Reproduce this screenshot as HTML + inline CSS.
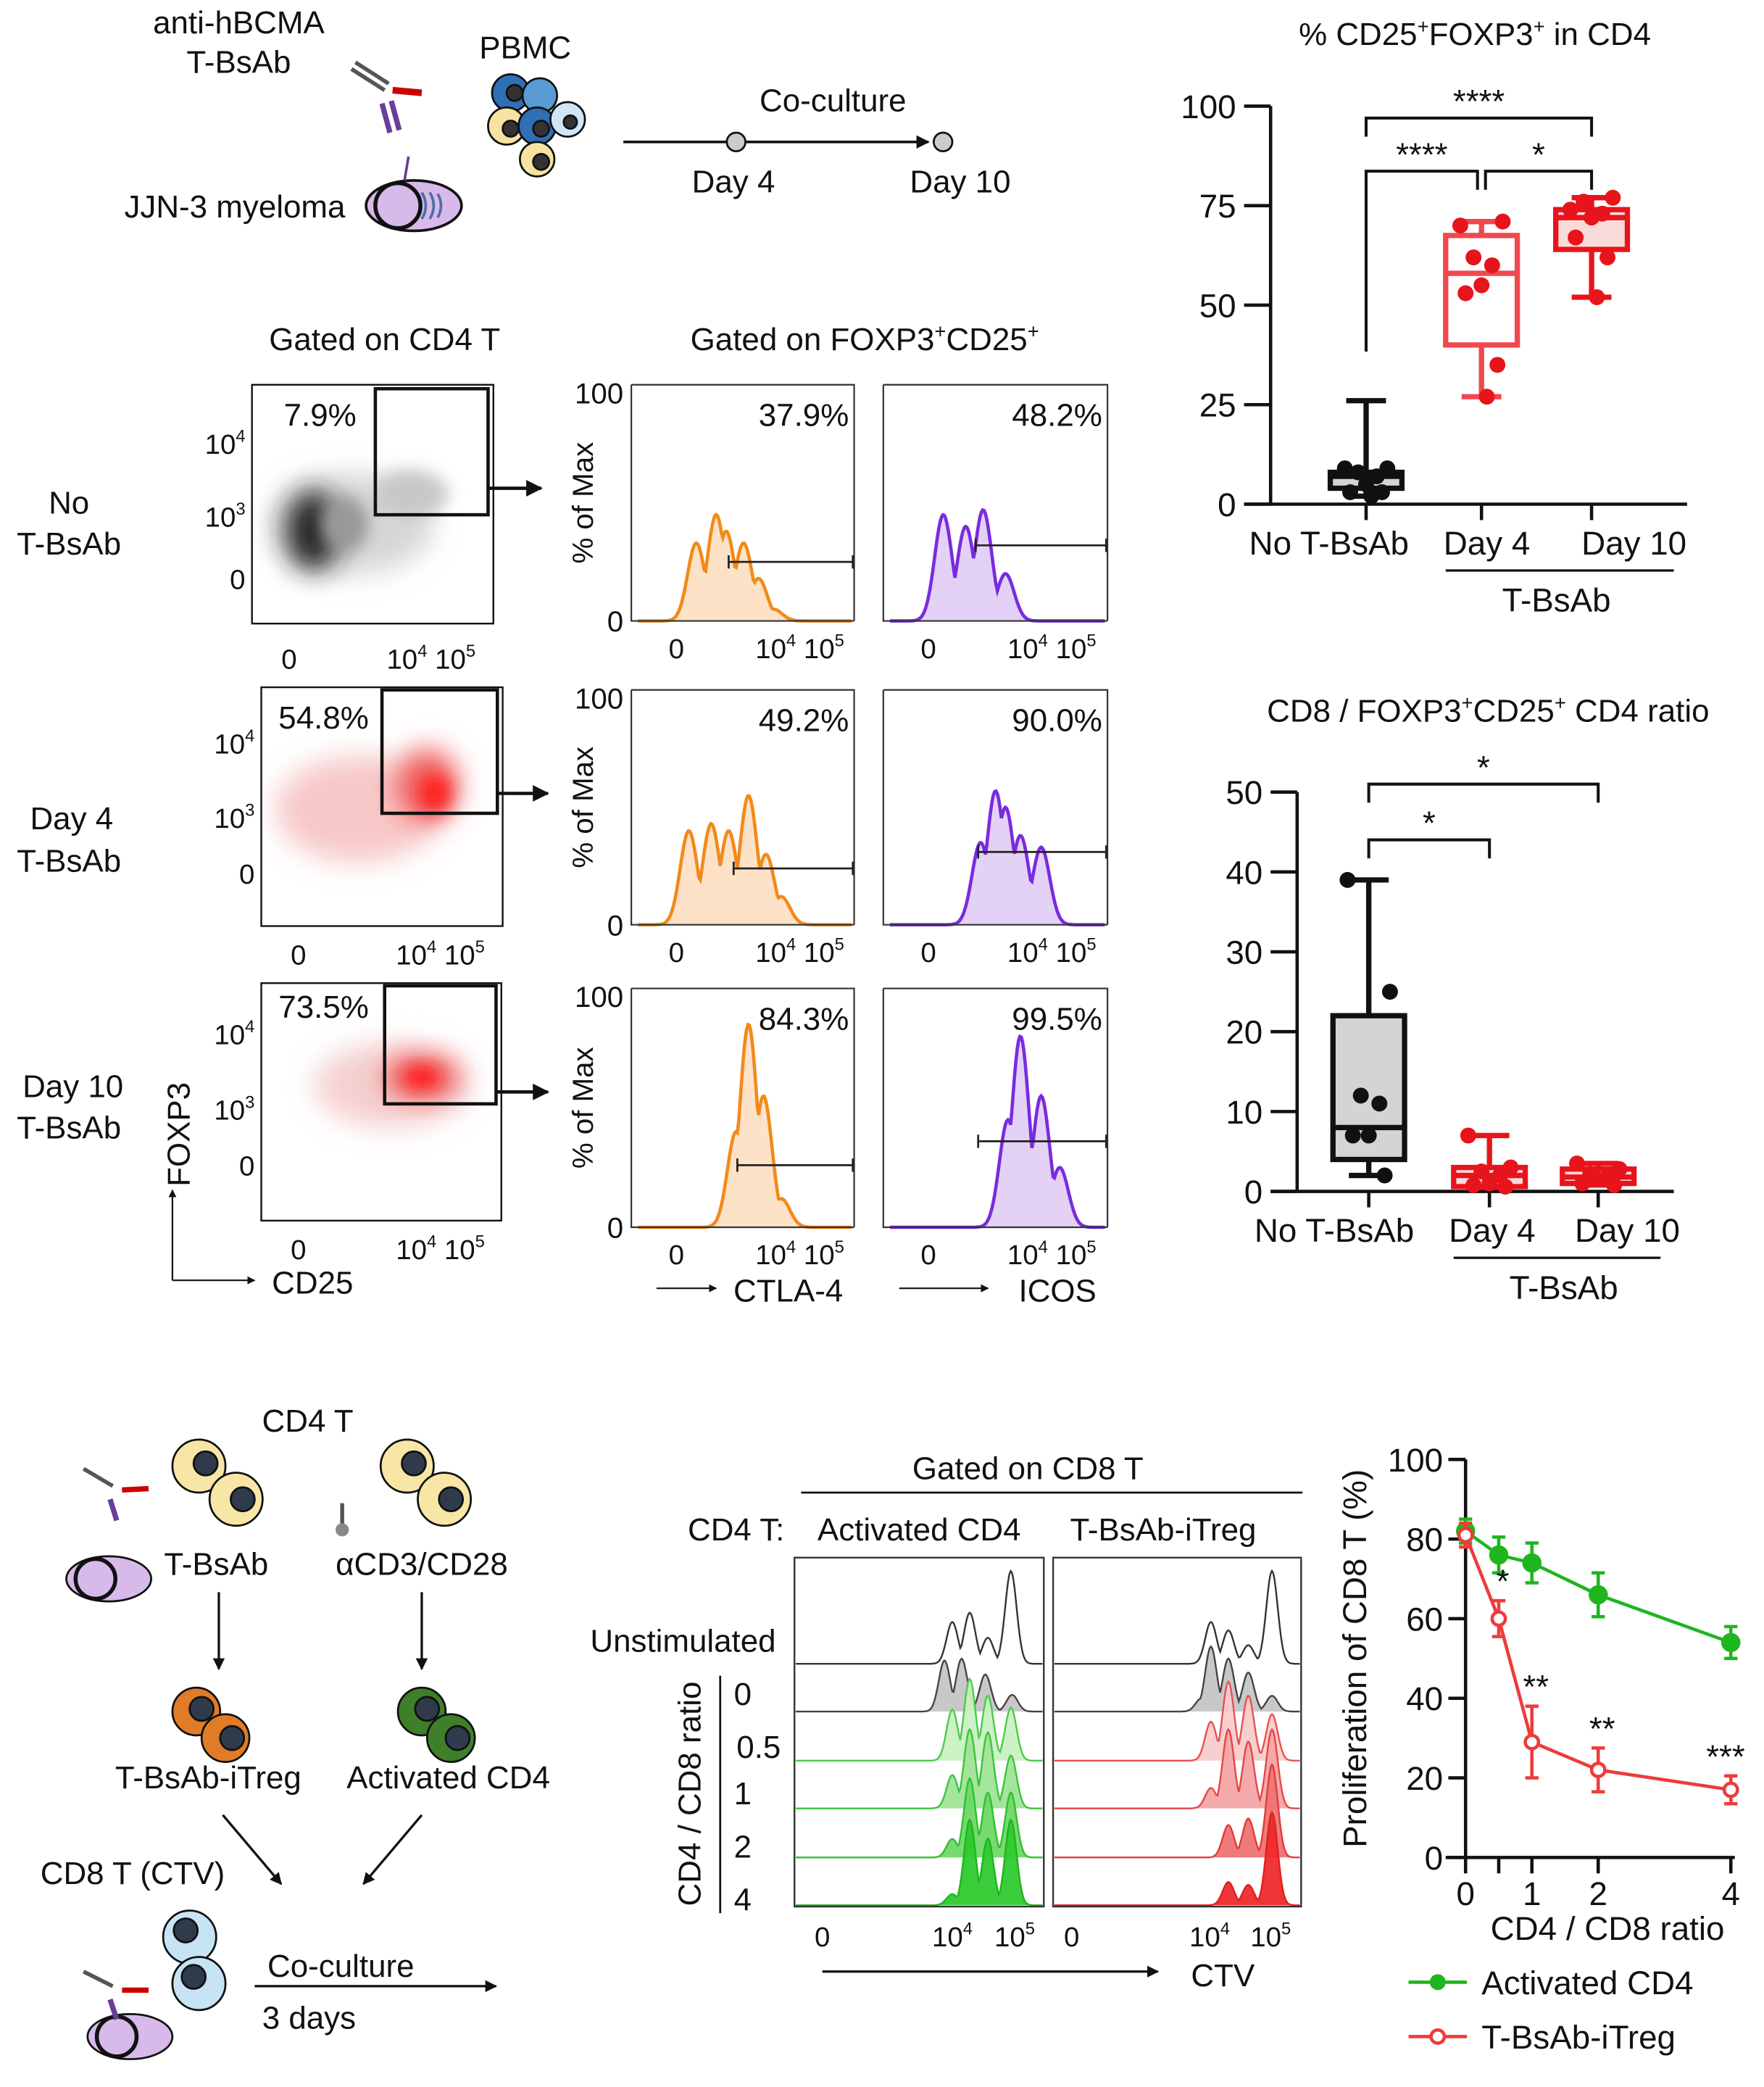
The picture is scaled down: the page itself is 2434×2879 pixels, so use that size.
<!DOCTYPE html>
<html><head><meta charset="utf-8">
<style>
html,body{margin:0;padding:0;background:#fff;}
svg{display:block;font-family:"Liberation Sans",Arial,sans-serif;}
text{fill:#111;}
</style></head>
<body>
<svg id="fig" xmlns="http://www.w3.org/2000/svg" width="2434" height="2879" viewBox="0 0 1330 1573" preserveAspectRatio="none">
<defs>
<filter id="blur6" x="-50%" y="-50%" width="200%" height="200%"><feGaussianBlur stdDeviation="6"/></filter>
<filter id="blur10" x="-50%" y="-50%" width="200%" height="200%"><feGaussianBlur stdDeviation="10"/></filter>
<marker id="ah" viewBox="0 0 10 10" refX="9" refY="5" markerWidth="5" markerHeight="5" orient="auto"><path d="M0,0L10,5L0,10z" fill="#111"/></marker>
<clipPath id="c1"><rect x="190" y="290" width="182" height="180"/></clipPath>
<clipPath id="c2"><rect x="197" y="518" width="182" height="180"/></clipPath>
<clipPath id="c3"><rect x="197" y="741" width="181" height="179"/></clipPath>
</defs>

<!-- ===== Top schematic ===== -->
<g font-size="24">
<text x="180" y="25" text-anchor="middle">anti-hBCMA</text>
<text x="180" y="55" text-anchor="middle">T-BsAb</text>
<text x="396" y="44" text-anchor="middle">PBMC</text>
<text x="177" y="164" text-anchor="middle">JJN-3 myeloma</text>
<g stroke-width="3">
<line x1="265" y1="52" x2="290" y2="68" stroke="#555"/><line x1="268" y1="47" x2="293" y2="63" stroke="#555"/>
<line x1="296" y1="68" x2="318" y2="70" stroke="#c00" stroke-width="5"/>
<line x1="288" y1="78" x2="294" y2="100" stroke="#6a3d9a" stroke-width="4"/><line x1="295" y1="76" x2="301" y2="98" stroke="#6a3d9a" stroke-width="4"/>
</g>
<g>
<ellipse cx="312" cy="155" rx="36" ry="19" fill="#d7b9ea" stroke="#111" stroke-width="2"/>
<circle cx="300" cy="155" r="17" fill="#d7b9ea" stroke="#111" stroke-width="3"/>
<path d="M318,145 q6,10 0,20 M324,145 q6,10 0,20 M330,146 q5,9 0,18" stroke="#4a6fa5" stroke-width="2" fill="none"/>
<line x1="305" y1="136" x2="308" y2="118" stroke="#6a3d9a" stroke-width="2"/>
</g>
<g stroke="#111" stroke-width="1.5">
<circle cx="385" cy="70" r="14" fill="#2f6fb5"/><circle cx="407" cy="72" r="13" fill="#5a9bd5"/>
<circle cx="382" cy="95" r="14" fill="#f6e3a0"/><circle cx="405" cy="95" r="14" fill="#2f6fb5"/>
<circle cx="428" cy="90" r="13" fill="#cfe6f7"/><circle cx="405" cy="120" r="13" fill="#f6e3a0"/>
<circle cx="388" cy="70" r="6" fill="#333"/><circle cx="408" cy="97" r="6" fill="#333"/><circle cx="385" cy="97" r="6" fill="#333"/><circle cx="430" cy="92" r="5" fill="#333"/><circle cx="408" cy="122" r="6" fill="#333"/>
</g>
<g>
<line x1="470" y1="107" x2="700" y2="107" stroke="#111" stroke-width="2" marker-end="url(#ah)"/>
<circle cx="555" cy="107" r="7" fill="#ccc" stroke="#111" stroke-width="1.5"/>
<circle cx="711" cy="107" r="7" fill="#ccc" stroke="#111" stroke-width="1.5"/>
<text x="628" y="84" text-anchor="middle">Co-culture</text>
<text x="553" y="145" text-anchor="middle">Day 4</text>
<text x="724" y="145" text-anchor="middle">Day 10</text>
</g>
</g>

<!-- ===== Flow section labels ===== -->
<g font-size="24">
<text x="290" y="264" text-anchor="middle">Gated on CD4 T</text>
<text x="652" y="264" text-anchor="middle">Gated on FOXP3<tspan font-size="15" dy="-9">+</tspan><tspan dy="9">CD25</tspan><tspan font-size="15" dy="-9">+</tspan></text>
<text x="52" y="387" text-anchor="middle">No</text>
<text x="52" y="418" text-anchor="middle">T-BsAb</text>
<text x="54" y="625" text-anchor="middle">Day 4</text>
<text x="52" y="657" text-anchor="middle">T-BsAb</text>
<text x="55" y="827" text-anchor="middle">Day 10</text>
<text x="52" y="858" text-anchor="middle">T-BsAb</text>
<text transform="translate(143,855) rotate(-90)" text-anchor="middle">FOXP3</text>
<text x="205" y="975">CD25</text>
<text x="553" y="981">CTLA-4</text>
<text x="768" y="981">ICOS</text>
<path d="M130,965 V897" stroke="#111" stroke-width="1.2" marker-end="url(#ah)" fill="none"/>
<path d="M130,965 H192" stroke="#111" stroke-width="1.2" marker-end="url(#ah)" fill="none"/>
<path d="M495,971 H540" stroke="#111" stroke-width="1.2" marker-end="url(#ah)" fill="none"/>
<path d="M678,971 H745" stroke="#111" stroke-width="1.2" marker-end="url(#ah)" fill="none"/>
</g>

<!-- ===== Dot plots ===== -->
<g>
<g clip-path="url(#c1)">
<ellipse cx="265" cy="395" rx="62" ry="38" fill="#d6d6d6" filter="url(#blur10)"/>
<ellipse cx="310" cy="372" rx="28" ry="18" fill="#c8c8c8" filter="url(#blur6)"/>
<ellipse cx="236" cy="400" rx="20" ry="30" fill="#222" filter="url(#blur10)"/>
<ellipse cx="260" cy="395" rx="18" ry="20" fill="#999" filter="url(#blur6)"/>
</g>
<rect x="190" y="290" width="182" height="180" fill="none" stroke="#111" stroke-width="1.3"/>
<rect x="283" y="293" width="85" height="95" fill="none" stroke="#111" stroke-width="2.5"/>
<text x="214" y="321" font-size="24">7.9%</text>
</g>
<g>
<g clip-path="url(#c2)">
<ellipse cx="270" cy="610" rx="62" ry="40" fill="#f7c8c8" filter="url(#blur10)"/>
<ellipse cx="322" cy="592" rx="24" ry="28" fill="#f06060" filter="url(#blur10)"/>
<ellipse cx="328" cy="598" rx="12" ry="14" fill="#ff2020" filter="url(#blur6)"/>
</g>
<rect x="197" y="518" width="182" height="180" fill="none" stroke="#111" stroke-width="1.3"/>
<rect x="288" y="520" width="87" height="93" fill="none" stroke="#111" stroke-width="2.5"/>
<text x="210" y="549" font-size="24">54.8%</text>
</g>
<g>
<g clip-path="url(#c3)">
<ellipse cx="295" cy="818" rx="58" ry="32" fill="#f4d0d0" filter="url(#blur10)"/>
<ellipse cx="318" cy="812" rx="28" ry="16" fill="#f05050" filter="url(#blur10)"/>
<ellipse cx="318" cy="812" rx="12" ry="8" fill="#ff1a1a" filter="url(#blur6)"/>
</g>
<rect x="197" y="741" width="181" height="179" fill="none" stroke="#111" stroke-width="1.3"/>
<rect x="290" y="743" width="84" height="89" fill="none" stroke="#111" stroke-width="2.5"/>
<text x="210" y="767" font-size="24">73.5%</text>
</g>
<g font-size="21">
<text x="185" y="342" text-anchor="end">10<tspan font-size="13" dy="-9">4</tspan></text>
<text x="185" y="397" text-anchor="end">10<tspan font-size="13" dy="-9">3</tspan></text>
<text x="185" y="444" text-anchor="end">0</text>
<text x="218" y="504" text-anchor="middle">0</text>
<text x="325" y="504" text-anchor="middle">10<tspan font-size="13" dy="-9">4</tspan><tspan dy="9"> 10</tspan><tspan font-size="13" dy="-9">5</tspan></text>
<text x="192" y="568" text-anchor="end">10<tspan font-size="13" dy="-9">4</tspan></text>
<text x="192" y="624" text-anchor="end">10<tspan font-size="13" dy="-9">3</tspan></text>
<text x="192" y="666" text-anchor="end">0</text>
<text x="225" y="727" text-anchor="middle">0</text>
<text x="332" y="727" text-anchor="middle">10<tspan font-size="13" dy="-9">4</tspan><tspan dy="9"> 10</tspan><tspan font-size="13" dy="-9">5</tspan></text>
<text x="192" y="787" text-anchor="end">10<tspan font-size="13" dy="-9">4</tspan></text>
<text x="192" y="844" text-anchor="end">10<tspan font-size="13" dy="-9">3</tspan></text>
<text x="192" y="886" text-anchor="end">0</text>
<text x="225" y="949" text-anchor="middle">0</text>
<text x="332" y="949" text-anchor="middle">10<tspan font-size="13" dy="-9">4</tspan><tspan dy="9"> 10</tspan><tspan font-size="13" dy="-9">5</tspan></text>
</g>
<g stroke="#111" stroke-width="2.5" fill="none">
<path d="M368,368 H408" marker-end="url(#ah)"/>
<path d="M375,598 H413" marker-end="url(#ah)"/>
<path d="M374,823 H413" marker-end="url(#ah)"/>
</g>

<!-- ===== Bottom-left schematic ===== -->
<g font-size="24">
<text x="232" y="1079" text-anchor="middle">CD4 T</text>
<g stroke="#111" stroke-width="1.5">
<circle cx="150" cy="1105" r="20" fill="#f8e6a6"/><circle cx="178" cy="1130" r="20" fill="#f8e6a6"/>
<circle cx="155" cy="1103" r="9" fill="#2f3a4a"/><circle cx="183" cy="1130" r="9" fill="#2f3a4a"/>
<circle cx="307" cy="1105" r="20" fill="#f8e6a6"/><circle cx="335" cy="1130" r="20" fill="#f8e6a6"/>
<circle cx="312" cy="1103" r="9" fill="#2f3a4a"/><circle cx="340" cy="1130" r="9" fill="#2f3a4a"/>
<circle cx="148" cy="1290" r="18" fill="#e07b28"/><circle cx="170" cy="1310" r="18" fill="#e07b28"/>
<circle cx="152" cy="1288" r="9" fill="#2f3a4a"/><circle cx="175" cy="1310" r="9" fill="#2f3a4a"/>
<circle cx="318" cy="1290" r="18" fill="#3f7f2a"/><circle cx="340" cy="1310" r="18" fill="#3f7f2a"/>
<circle cx="322" cy="1288" r="9" fill="#2f3a4a"/><circle cx="345" cy="1310" r="9" fill="#2f3a4a"/>
<circle cx="143" cy="1460" r="20" fill="#c6e4f6"/><circle cx="150" cy="1495" r="20" fill="#c6e4f6"/>
<circle cx="140" cy="1455" r="9" fill="#2f3a4a"/><circle cx="146" cy="1490" r="9" fill="#2f3a4a"/>
<ellipse cx="98" cy="1535" rx="32" ry="17" fill="#d7b9ea"/><circle cx="88" cy="1535" r="15" fill="#d7b9ea" stroke-width="3"/>
<ellipse cx="82" cy="1190" rx="32" ry="17" fill="#d7b9ea"/><circle cx="72" cy="1190" r="15" fill="#d7b9ea" stroke-width="3"/>
</g>
<g stroke-width="3">
<line x1="63" y1="1107" x2="85" y2="1120" stroke="#555"/><line x1="92" y1="1123" x2="112" y2="1122" stroke="#c00" stroke-width="4"/><line x1="83" y1="1130" x2="88" y2="1146" stroke="#6a3d9a" stroke-width="4"/>
<line x1="63" y1="1486" x2="85" y2="1497" stroke="#555"/><line x1="92" y1="1500" x2="112" y2="1500" stroke="#c00" stroke-width="4"/><line x1="83" y1="1507" x2="88" y2="1522" stroke="#6a3d9a" stroke-width="4"/>
<line x1="258" y1="1133" x2="258" y2="1150" stroke="#555"/><circle cx="258" cy="1153" r="5" fill="#888"/>
</g>
<text x="163" y="1187" text-anchor="middle">T-BsAb</text>
<text x="318" y="1187" text-anchor="middle">αCD3/CD28</text>
<path d="M165,1200 V1258" stroke="#111" stroke-width="1.8" marker-end="url(#ah)"/>
<path d="M318,1200 V1258" stroke="#111" stroke-width="1.8" marker-end="url(#ah)"/>
<text x="157" y="1348" text-anchor="middle">T-BsAb-iTreg</text>
<text x="338" y="1348" text-anchor="middle">Activated CD4</text>
<path d="M168,1368 L212,1420" stroke="#111" stroke-width="1.8" marker-end="url(#ah)"/>
<path d="M318,1368 L274,1420" stroke="#111" stroke-width="1.8" marker-end="url(#ah)"/>
<text x="100" y="1420" text-anchor="middle">CD8 T (CTV)</text>
<text x="257" y="1490" text-anchor="middle">Co-culture</text>
<path d="M192,1497 H374" stroke="#111" stroke-width="1.8" marker-end="url(#ah)"/>
<text x="233" y="1529" text-anchor="middle">3 days</text>
</g>

<!-- ===== CTV section labels ===== -->
<g font-size="24">
<text x="775" y="1115" text-anchor="middle">Gated on CD8 T</text>
<line x1="604" y1="1125" x2="982" y2="1125" stroke="#111" stroke-width="1.5"/>
<text x="555" y="1161" text-anchor="middle">CD4 T:</text>
<text x="693" y="1161" text-anchor="middle">Activated CD4</text>
<text x="877" y="1161" text-anchor="middle">T-BsAb-iTreg</text>
<text x="515" y="1245" text-anchor="middle">Unstimulated</text>
<line x1="543" y1="1263" x2="543" y2="1442" stroke="#111" stroke-width="1.5"/>
<text transform="translate(528,1352) rotate(-90)" text-anchor="middle">CD4 / CD8 ratio</text>
<text x="560" y="1285" text-anchor="middle">0</text>
<text x="572" y="1325" text-anchor="middle">0.5</text>
<text x="560" y="1360" text-anchor="middle">1</text>
<text x="560" y="1400" text-anchor="middle">2</text>
<text x="560" y="1440" text-anchor="middle">4</text>
<path d="M620,1486 H873" stroke="#111" stroke-width="1.8" marker-end="url(#ah)"/>
<text x="922" y="1497" text-anchor="middle">CTV</text>
<g font-size="21">
<text x="620" y="1467" text-anchor="middle">0</text>
<text x="718" y="1467" text-anchor="middle">10<tspan font-size="13" dy="-9">4</tspan></text>
<text x="765" y="1467" text-anchor="middle">10<tspan font-size="13" dy="-9">5</tspan></text>
<text x="808" y="1467" text-anchor="middle">0</text>
<text x="912" y="1467" text-anchor="middle">10<tspan font-size="13" dy="-9">4</tspan></text>
<text x="958" y="1467" text-anchor="middle">10<tspan font-size="13" dy="-9">5</tspan></text>
</g>
</g>

<g id="charts"></g>
</svg>

<script>
// ---------- data ----------
// Box plot 1: % CD25+FOXP3+ in CD4
const box1Cats = ["No T-BsAb", "Day 4", "Day 10"];
const box1Min = [2, 27, 52];
const box1Q1 = [4, 40, 64];
const box1Med = [7, 58, 72];
const box1Q3 = [8, 67.5, 74];
const box1Max = [26, 71, 77];
const box1Pts = [[9, 9, 8, 7, 5, 3, 3, 2], [70, 71, 62, 60, 55, 53, 35, 27], [74, 77, 76, 73, 72, 67, 62, 52]];
const box1Ticks = [0, 25, 50, 75, 100];
// Box plot 2: CD8 / FOXP3+CD25+ CD4 ratio
const box2Cats = ["No T-BsAb", "Day 4", "Day 10"];
const box2Min = [2, 0.5, 0.8];
const box2Q1 = [4, 0.6, 1];
const box2Med = [8, 2, 1.8];
const box2Q3 = [22, 3, 2.8];
const box2Max = [39, 7, 3.5];
const box2Pts = [[39, 25, 12, 11, 7, 7, 2], [7, 3, 2.5, 2, 1, 0.8, 0.6], [3.5, 2.8, 2.2, 2, 1.5, 1, 0.8]];
const box2Ticks = [0, 10, 20, 30, 40, 50];
// Line chart: proliferation of CD8 T
const ratios = [0, 0.5, 1, 2, 4];
const actMean = [82, 76, 74, 66, 54];
const actErr = [3, 4.5, 5, 5.5, 4];
const tregMean = [81, 60, 29, 22, 17];
const tregErr = [3, 4.5, 9, 5.5, 3.5];
const sigLabels = ["", "*", "**", "**", "***"];
const lineYTicks = [0, 20, 40, 60, 80, 100];
const lineXTicks = [0, 1, 2, 4];
// Flow histograms (peak location in log-channel units, height % of max)
const ctla4Peaks = [
  [[0.8, 33], [1.6, 45], [2.0, 38], [2.7, 33], [3.3, 18], [3.9, 5]],
  [[0.5, 40], [1.4, 43], [2.1, 40], [2.9, 55], [3.6, 30], [4.1, 12]],
  [[2.4, 40], [2.9, 85], [3.5, 55], [4.1, 12]]];
const icosPeaks = [
  [[0.6, 45], [1.5, 40], [2.2, 47], [3.1, 20]],
  [[2.1, 35], [2.7, 57], [3.1, 50], [3.7, 38], [4.25, 33]],
  [[3.2, 45], [3.7, 80], [4.25, 55], [4.6, 25]]];
const ctla4Pct = ["37.9%", "49.2%", "84.3%"];
const icosPct = ["48.2%", "90.0%", "99.5%"];
const ctla4GateStart = [2.1, 2.3, 2.45];
const icosGateStart = [1.9, 2.0, 2.0];
const ctla4GateLevel = [25, 24, 26];
const icosGateLevel = [32, 31, 36];
// CTV ridgelines (rows: unstim, 0, 0.5, 1, 2, 4)
const ctvRows = ["Unstimulated", "0", "0.5", "1", "2", "4"];
const ctvActPeaks = [
  [[4.0, 45], [4.28, 55], [4.57, 28], [4.94, 100]],
  [[3.76, 55], [4.15, 57], [4.53, 40], [4.96, 18]],
  [[4.0, 55], [4.28, 88], [4.57, 70], [4.94, 57]],
  [[4.0, 36], [4.28, 85], [4.57, 82], [4.94, 57]],
  [[4.0, 20], [4.28, 85], [4.57, 70], [4.94, 70]],
  [[4.0, 12], [4.28, 92], [4.57, 72], [4.94, 92]]];
const ctvTregPeaks = [
  [[4.0, 45], [4.28, 36], [4.6, 20], [4.98, 100]],
  [[3.7, 14], [4.0, 70], [4.28, 57], [4.6, 42], [4.98, 17]],
  [[4.0, 42], [4.28, 85], [4.6, 70], [4.98, 50]],
  [[4.0, 22], [4.28, 85], [4.6, 72], [4.98, 85]],
  [[4.28, 35], [4.6, 42], [4.98, 100]],
  [[4.28, 25], [4.6, 22], [4.98, 100]]];

// ---------- helpers ----------
const NS = "http://www.w3.org/2000/svg";
const root = document.getElementById('charts');
function mk(tag, attrs, name, parent) {
  const el = document.createElementNS(NS, tag);
  for (const k in attrs) el.setAttribute(k, attrs[k]);
  
  
  (parent || root).appendChild(el);
  return el;
}
function txt(x, y, s, name, opts, parent) {
  const a = Object.assign({x: x, y: y, 'font-size': 24, 'text-anchor': 'middle'}, opts || {});
  const t = mk('text', a, name, parent);
  t.textContent = s;
  return t;
}
const jitter = [-16, 16, -6, 8, 0, -12, 12, 4];

// ---------- box plots ----------
function boxChart(cfg) {
  const g = mk('g', {}, cfg.name);
  const ys = v => cfg.y0 - (v - cfg.vmin) / (cfg.vmax - cfg.vmin) * (cfg.y0 - cfg.y1);
  mk('line', {x1: cfg.ax, y1: ys(cfg.vmax), x2: cfg.ax, y2: cfg.y0 + 1, stroke: '#111', 'stroke-width': 2.5}, 'y-axis', g);
  mk('line', {x1: cfg.ax - 20, y1: cfg.y0, x2: cfg.xend, y2: cfg.y0, stroke: '#111', 'stroke-width': 2.5}, 'x-axis', g);
  cfg.ticks.forEach(t => {
    mk('line', {x1: cfg.ax - 20, y1: ys(t), x2: cfg.ax, y2: ys(t), stroke: '#111', 'stroke-width': 2.5}, 'y-tick', g);
    txt(cfg.ax - 26, ys(t) + 9, String(t), 'y-tick-label', {'text-anchor': 'end', 'font-size': 25}, g);
  });
  cfg.cats.forEach((c, i) => {
    const cx = cfg.cx[i];
    mk('line', {x1: cx, y1: cfg.y0, x2: cx, y2: cfg.y0 + 12, stroke: '#111', 'stroke-width': 2.5}, 'x-tick', g);
    txt(cx + cfg.lblOff[i], cfg.y0 + 38, c, 'x-tick-label', {'font-size': 25}, g);
    const st = cfg.stroke[i], hw = 27;
    mk('line', {x1: cx, y1: ys(cfg.min[i]), x2: cx, y2: ys(cfg.max[i]), stroke: st, 'stroke-width': 4}, 'whisker', g);
    mk('line', {x1: cx - 15, y1: ys(cfg.max[i]), x2: cx + 15, y2: ys(cfg.max[i]), stroke: st, 'stroke-width': 4}, 'whisker-cap-max', g);
    mk('line', {x1: cx - 15, y1: ys(cfg.min[i]), x2: cx + 15, y2: ys(cfg.min[i]), stroke: st, 'stroke-width': 4}, 'whisker-cap-min', g);
    mk('rect', {x: cx - hw, y: ys(cfg.q3[i]), width: 2 * hw, height: Math.max(2, ys(cfg.q1[i]) - ys(cfg.q3[i])), fill: cfg.fill[i], stroke: st, 'stroke-width': 4}, 'box-' + i, g);
    mk('line', {x1: cx - hw, y1: ys(cfg.med[i]), x2: cx + hw, y2: ys(cfg.med[i]), stroke: st, 'stroke-width': 4}, 'median', g);
    cfg.pts[i].forEach((v, j) => {
      mk('circle', {cx: cx + jitter[j % jitter.length], cy: ys(v), r: 6, fill: cfg.dot[i]}, 'data-point', g);
    });
  });
  mk('line', {x1: cfg.cx[1] - 27, y1: cfg.y0 + 50, x2: cfg.xend - 10, y2: cfg.y0 + 50, stroke: '#111', 'stroke-width': 1.8}, 'group-underline', g);
  txt((cfg.cx[1] + cfg.cx[2]) / 2 + 15, cfg.y0 + 81, 'T-BsAb', 'group-label', {'font-size': 25}, g);
  cfg.brackets.forEach(b => {
    const x1 = cfg.cx[b[0]] + (b[4] || 0), x2 = cfg.cx[b[1]] + (b[5] || 0);
    mk('path', {d: `M${x1},${b[3]} V${b[2]} H${x2} V${b[2] + 14}`, fill: 'none', stroke: '#111', 'stroke-width': 2.2}, 'significance-bracket', g);
    txt((x1 + x2) / 2, b[2] - 4, b[6], 'significance-stars', {'font-size': 25}, g);
  });
  return g;
}
boxChart({name: 'box-chart-treg-pct', cats: box1Cats, min: box1Min, q1: box1Q1, med: box1Med, q3: box1Q3, max: box1Max, pts: box1Pts, ticks: box1Ticks,
  vmin: 0, vmax: 100, y0: 380, y1: 80, ax: 958, xend: 1272, cx: [1030, 1117, 1200], lblOff: [-28, 4, 32],
  stroke: ['#111', '#f0484e', '#e8141c'], fill: ['#d4d4d4', '#fff', '#fbdada'], dot: ['#111', '#e8141c', '#e8141c'],
  brackets: [[0, 2, 89, 103, 0, 0, '****'], [0, 1, 129, 265, 0, -3, '****'], [1, 2, 129, 143, 3, 0, '*']]});
(function () {
  const t = mk('text', {x: 1112, y: 34, 'font-size': 24, 'text-anchor': 'middle'}, 'title-treg-pct-text');
  t.innerHTML = '% CD25<tspan font-size="15" dy="-9">+</tspan><tspan dy="9">FOXP3</tspan><tspan font-size="15" dy="-9">+</tspan><tspan dy="9"> in CD4</tspan>';
})();
boxChart({name: 'box-chart-cd8-ratio', cats: box2Cats, min: box2Min, q1: box2Q1, med: box2Med, q3: box2Q3, max: box2Max, pts: box2Pts, ticks: box2Ticks,
  vmin: 0, vmax: 50, y0: 898, y1: 597, ax: 978, xend: 1262, cx: [1032, 1123, 1205], lblOff: [-26, 2, 22],
  stroke: ['#111', '#e8141c', '#e8141c'], fill: ['#d4d4d4', '#fbdada', '#fbdada'], dot: ['#111', '#e8141c', '#e8141c'],
  brackets: [[0, 2, 591, 605, 0, 0, '*'], [0, 1, 633, 647, 0, 0, '*']]});
(function () {
  const t = mk('text', {x: 1122, y: 544, 'font-size': 24, 'text-anchor': 'middle'}, 'title-cd8-ratio-text');
  t.innerHTML = 'CD8 / FOXP3<tspan font-size="15" dy="-9">+</tspan><tspan dy="9">CD25</tspan><tspan font-size="15" dy="-9">+</tspan><tspan dy="9"> CD4 ratio</tspan>';
})();

// ---------- line chart ----------
(function () {
  const g = mk('g', {}, 'line-chart-proliferation');
  const xs = r => 1105 + r * 50;
  const ys = v => 1400 - v * 3;
  mk('line', {x1: 1105, y1: ys(100), x2: 1105, y2: 1400, stroke: '#111', 'stroke-width': 2.5}, 'y-axis', g);
  mk('line', {x1: 1090, y1: 1400, x2: 1308, y2: 1400, stroke: '#111', 'stroke-width': 2.5}, 'x-axis', g);
  lineYTicks.forEach(t => {
    mk('line', {x1: 1092, y1: ys(t), x2: 1105, y2: ys(t), stroke: '#111', 'stroke-width': 2.5}, 'y-tick', g);
    txt(1088, ys(t) + 9, String(t), 'y-tick-label', {'text-anchor': 'end', 'font-size': 25}, g);
  });
  ratios.forEach(r => mk('line', {x1: xs(r), y1: 1400, x2: xs(r), y2: 1412, stroke: '#111', 'stroke-width': 2.5}, 'x-tick', g));
  lineXTicks.forEach(r => txt(xs(r), 1436, String(r), 'x-tick-label', {'font-size': 25}, g));
  txt(1212, 1462, 'CD4 / CD8 ratio', 'x-axis-title', {'font-size': 25}, g);
  txt(0, 0, 'Proliferation of CD8 T (%)', 'y-axis-title', {transform: 'translate(1030,1250) rotate(-90)', 'font-size': 25}, g);
  function series(mean, err, col, open, name) {
    const sg = mk('g', {}, name, g);
    mk('polyline', {points: ratios.map((r, i) => xs(r) + ',' + ys(mean[i])).join(' '), fill: 'none', stroke: col, 'stroke-width': 2.5}, 'series-line', sg);
    ratios.forEach((r, i) => {
      const x = xs(r);
      mk('path', {d: `M${x},${ys(mean[i] - err[i])}V${ys(mean[i] + err[i])}M${x - 5},${ys(mean[i] - err[i])}h10M${x - 5},${ys(mean[i] + err[i])}h10`, stroke: col, 'stroke-width': 2.5, fill: 'none'}, 'error-bar', sg);
      mk('circle', {cx: x, cy: ys(mean[i]), r: open ? 5 : 6, fill: open ? '#fff' : col, stroke: col, 'stroke-width': 2.5}, 'data-point', sg);
    });
  }
  series(actMean, actErr, '#1fb51f', false, 'series-activated-cd4');
  series(tregMean, tregErr, '#ee3b3b', true, 'series-tbsab-itreg');
  ratios.forEach((r, i) => {
    if (sigLabels[i]) txt(xs(r) + (i === 4 ? -4 : 3), ys(tregMean[i] + tregErr[i]) - 6, sigLabels[i], 'significance-stars', {'font-size': 25}, g);
  });
  mk('line', {x1: 1062, y1: 1494, x2: 1106, y2: 1494, stroke: '#1fb51f', 'stroke-width': 2.5}, 'legend-line-activated', g);
  mk('circle', {cx: 1084, cy: 1494, r: 6, fill: '#1fb51f'}, 'legend-marker-activated', g);
  txt(1117, 1503, 'Activated CD4', 'legend-entry-activated', {'text-anchor': 'start', 'font-size': 25}, g);
  mk('line', {x1: 1062, y1: 1535, x2: 1106, y2: 1535, stroke: '#ee3b3b', 'stroke-width': 2.5}, 'legend-line-itreg', g);
  mk('circle', {cx: 1084, cy: 1535, r: 5, fill: '#fff', stroke: '#ee3b3b', 'stroke-width': 2.5}, 'legend-marker-itreg', g);
  txt(1117, 1544, 'T-BsAb-iTreg', 'legend-entry-itreg', {'text-anchor': 'start', 'font-size': 25}, g);
})();

// ---------- flow histograms ----------
function mixPath(peaks, xfun, x0, x1, base, hscale, w) {
  let d = `M${x0},${base}`;
  for (let x = x0; x <= x1; x += 1) {
    let h = 0;
    peaks.forEach(p => { const px = xfun(p[0]); const v = p[1] * Math.exp(-((x - px) * (x - px)) / (2 * w * w)); if (v > h) h = v; });
    d += ` L${x},${(base - h * hscale).toFixed(1)}`;
  }
  return d + ` L${x1},${base}`;
}
(function () {
  const g = mk('g', {}, 'flow-histograms');
  const rowsTop = [290, 520, 745], rowsBot = [468, 697, 925];
  const cols = [{left: 476, right: 644, peaks: ctla4Peaks, pct: ctla4Pct, gs: ctla4GateStart, gl: ctla4GateLevel, fill: '#fde2c8', stroke: '#f28a1a', nm: 'ctla4'},
                {left: 666, right: 835, peaks: icosPeaks, pct: icosPct, gs: icosGateStart, gl: icosGateLevel, fill: '#e3d2f5', stroke: '#7a2be0', nm: 'icos'}];
  rowsTop.forEach((top, r) => {
    const bot = rowsBot[r];
    const hs = (bot - top) / 100;
    cols.forEach(c => {
      const fx = u => u <= 4 ? c.left + 34 + u * 18.75 : c.left + 109 + (u - 4) * 40;
      const hg = mk('g', {}, 'histogram-' + c.nm + '-row' + r, g);
      mk('path', {d: mixPath(c.peaks[r], fx, c.left + 5, c.right - 2, bot, hs, 6.5), fill: c.fill, stroke: c.stroke, 'stroke-width': 2.5}, 'histogram-area', hg);
      mk('path', {d: `M${c.left},${top} H${c.right} V${bot} M${c.left},${top} V${bot} H${c.right}`, fill: 'none', stroke: '#333', 'stroke-width': 1.2}, 'histogram-frame', hg);
      const gy = bot - c.gl[r] * hs;
      mk('path', {d: `M${fx(c.gs[r])},${gy}H${c.right - 1}M${fx(c.gs[r])},${gy - 5}v10M${c.right - 1},${gy - 5}v10`, stroke: '#222', 'stroke-width': 1.5, fill: 'none'}, 'histogram-gate', hg);
      txt(c.right - 4, top + 31, c.pct[r], 'histogram-gate-pct', {'text-anchor': 'end'}, hg);
      const tl = mk('text', {x: fx(0), y: bot + 28, 'font-size': 21, 'text-anchor': 'middle'}, 'x-tick-label', hg);
      tl.textContent = '0';
      const t2 = mk('text', {x: (fx(4) + fx(5)) / 2 - 2, y: bot + 28, 'font-size': 21, 'text-anchor': 'middle'}, 'x-tick-label', hg);
      t2.innerHTML = '10<tspan font-size="13" dy="-9">4</tspan><tspan dy="9"> 10</tspan><tspan font-size="13" dy="-9">5</tspan>';
    });
    txt(cols[0].left - 6, top + 14, '100', 'y-tick-label', {'text-anchor': 'end', 'font-size': 22}, g);
    txt(cols[0].left - 6, bot + 8, '0', 'y-tick-label', {'text-anchor': 'end', 'font-size': 22}, g);
    txt(0, 0, '% of Max', 'y-axis-title', {transform: `translate(447,${(top + bot) / 2}) rotate(-90)`, 'font-size': 22}, g);
  });
})();

// ---------- CTV ridgelines ----------
(function () {
  const g = mk('g', {}, 'ctv-histograms');
  const bases = [1254, 1290, 1327, 1363, 1400, 1436];
  const hs = 0.7;
  const panels = [{left: 599, right: 787, peaks: ctvActPeaks, cols: ['none', '#c8c8c8', '#c9f0c2', '#9fe497', '#6fd866', '#2ecb2e'], line: ['#333', '#444', '#4cc94c', '#3cc43c', '#2fbf2f', '#1fb51f'], nm: 'activated'},
                  {left: 794, right: 981, peaks: ctvTregPeaks, cols: ['none', '#c8c8c8', '#f8cccc', '#f3a5a5', '#ee7373', '#ee2b2b'], line: ['#333', '#444', '#e85050', '#e64545', '#e33a3a', '#e02020'], nm: 'itreg'}];
  panels.forEach(p => {
    const fx = u => u <= 4 ? p.left + 21 + u * 24.5 : p.left + 119 + (u - 4) * 47;
    ctvRows.forEach((row, i) => {
      mk('path', {d: mixPath(p.peaks[i], fx, p.left + 1, p.right - 1, bases[i], hs, 4.3), fill: p.cols[i], stroke: p.line[i], 'stroke-width': 1.3, 'fill-opacity': i === 1 ? 1 : 0.95}, 'ridge-' + p.nm + '-' + row, g);
    });
    mk('rect', {x: p.left, y: 1174, width: p.right - p.left, height: 263, fill: 'none', stroke: '#333', 'stroke-width': 1.3}, 'ctv-panel-frame-' + p.nm, g);
  });
})();
</script>
</body></html>
